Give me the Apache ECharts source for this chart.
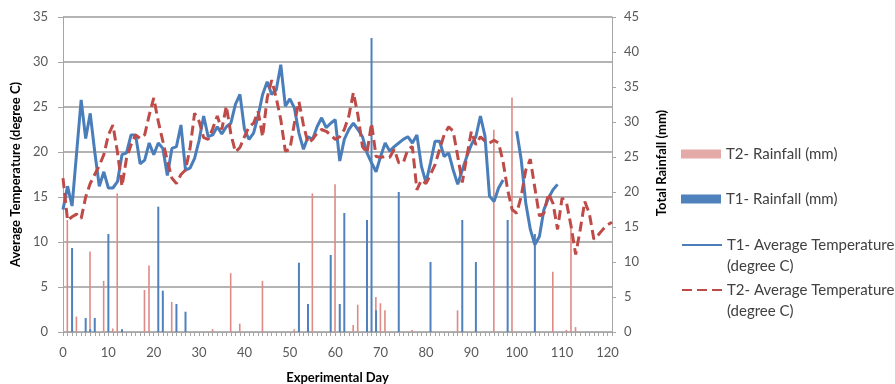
<!DOCTYPE html>
<html>
<head>
<meta charset="utf-8">
<script src="https://cdn.jsdelivr.net/npm/echarts@6/dist/echarts.min.js"></script>
<style>
  html, body { margin: 0; padding: 0; background: #fff; }
  #chart { width: 895px; height: 384px; }
</style>
</head>
<body>
<div id="chart"></div>
<script>
// experimental days 0..121
var days = [];
for (var i = 0; i <= 121; i++) days.push(String(i));

// average temperature (degree C), one value per day, null = no reading
var t1Temp = [
  13.6, 16.2, 14.0, 19.9, 25.8, 21.5, 24.3, 20.0, 16.2, 17.8,
  16.0, 16.0, 16.7, 19.7, 19.9, 21.9, 21.9, 18.7, 19.1, 21.0,
  19.7, 21.0, 20.4, 17.4, 20.4, 20.6, 23.0, 18.0, 18.2, 19.3,
  21.3, 24.0, 21.7, 21.9, 22.8, 22.0, 22.8, 23.2, 25.3, 26.4,
  22.5, 21.4, 22.1, 24.0, 26.4, 27.8, 26.4, 26.9, 29.7, 25.1,
  25.9, 24.9, 22.1, 20.3, 21.7, 21.4, 22.8, 23.8, 22.7, 23.2,
  23.6, 19.0, 21.4, 22.5, 23.2, 22.5, 21.7, 19.9, 18.8, 17.8,
  19.5, 21.0, 20.1, 20.6, 21.0, 21.4, 21.7, 21.0, 21.9, 18.4,
  16.6, 18.8, 21.2, 21.2, 19.5, 19.9, 18.0, 16.4, 18.0, 19.5,
  20.8, 21.7, 24.0, 21.8, 15.1, 14.5, 16.0, 16.9, null, null,
  22.3, 19.1, 14.3, 11.4, 9.7, 10.6, 13.6, 14.9, 15.8, 16.4,
  null, null, null, null, null, null, null, null, null, null,
  null, null
];
var t2Temp = [
  17.1, 12.4, 12.8, 13.1, 12.6, 15.0, 16.5, 17.5, 18.5, 19.7,
  21.9, 23.0, 20.0, 16.2, 19.3, 20.8, 21.9, 21.5, 21.9, 24.1,
  26.0, 23.4, 21.2, 19.0, 17.1, 16.5, 17.5, 18.0, 20.4, 24.3,
  23.4, 21.6, 21.4, 22.6, 24.0, 22.5, 25.1, 22.0, 20.0, 20.5,
  21.7, 22.8, 23.2, 24.5, 21.7, 26.0, 28.0, 26.0, 23.6, 20.1,
  20.3, 23.2, 25.6, 23.0, 21.0, 21.4, 22.1, 22.5, 22.3, 21.9,
  21.4, 21.7, 22.5, 24.0, 26.6, 24.1, 20.6, 19.9, 23.2, 19.5,
  19.4, 19.5, 19.4, 20.3, 18.8, 18.8, 20.3, 20.6, 15.8, 16.9,
  16.5, 17.5, 18.6, 20.3, 21.9, 22.8, 22.3, 19.5, 16.6, 19.5,
  22.3, 20.8, 21.7, 21.2, 21.0, 21.3, 21.0, 18.9, 15.8, 13.6,
  13.2, 15.1, 18.0, 19.2, 16.0, 12.9, 13.2, 15.4, 14.3, 11.4,
  14.9, 14.3, 11.7, 8.6, 11.4, 14.5, 13.2, 10.3, 10.8, 11.4,
  11.9, 12.2
];

// rainfall (mm): [day, mm]
var t1Rain = [
  [2, 12], [5, 2], [6, 0.4], [7, 2], [10, 14], [13, 0.4], [21, 17.9], [22, 5.9],
  [25, 4], [27, 2.9], [52, 9.9], [54, 4], [59, 11], [61, 4], [62, 17], [67, 16],
  [68, 42], [69, 3.1], [74, 20], [81, 10], [88, 16], [91, 10], [98, 16], [104, 14]
];
var t2Rain = [
  [1, 16], [3, 2.2], [6, 11.5], [9, 7.3], [11, 0.5], [12, 19.8], [18, 6], [19, 9.5],
  [24, 4.3], [33, 0.4], [37, 8.4], [39, 1.2], [44, 7.3], [51, 0.4], [55, 19.8],
  [60, 21.1], [64, 1], [65, 3.9], [69, 5], [70, 4.1], [71, 3.1], [77, 0.3], [87, 3.1],
  [95, 28.9], [99, 33.5], [108, 8.6], [111, 0.3], [112, 15], [113, 0.7]
];

var FONT = 'Lato';
var blue = '#4a7ebb';
var red = '#be4b48';

var chart = echarts.init(document.getElementById('chart'));

function legendBox(name, top, extra) {
  var l = {
    data: [name],
    left: 681,
    top: top,
    padding: 0,
    itemWidth: 40,
    itemHeight: 9,
    textStyle: { fontFamily: FONT, fontSize: 15, color: '#404040', lineHeight: 21 }
  };
  for (var k in extra) l[k] = extra[k];
  return l;
}

// two-line legend label, first line level with the icon
function twoLines(n) {
  return '\n' + n.replace(' (degree', '\n(degree');
}

chart.setOption({
  animation: false,
  textStyle: { fontFamily: FONT },
  grid: { left: 63, right: 283, top: 17, bottom: 52, containLabel: false, outerBoundsMode: 'none' },
  legend: [
    legendBox({ name: 'T2- Rainfall (mm)', itemStyle: { color: '#e4aaa7' } }, 143.5, { icon: 'rect' }),
    legendBox('T1- Rainfall (mm)', 188.5, { icon: 'rect' }),
    legendBox('T1- Average Temperature (degree C)', 213.5, {
      formatter: twoLines,
      itemStyle: { opacity: 0 }
    }),
    legendBox('T2- Average Temperature (degree C)', 258.5, {
      formatter: twoLines,
      itemStyle: { opacity: 0 }
    })
  ],
  xAxis: {
    type: 'category',
    data: days,
    boundaryGap: false,
    name: 'Experimental Day',
    nameLocation: 'middle',
    nameGap: 39,
    nameTextStyle: { fontFamily: FONT, fontSize: 13, fontWeight: 'bold', color: '#000' },
    axisLine: { lineStyle: { color: '#a6a6a6', width: 1 } },
    axisTick: { interval: 0, length: 4, lineStyle: { color: '#a6a6a6' } },
    axisLabel: {
      interval: function (idx) { return idx % 10 === 0; },
      margin: 14,
      fontFamily: FONT, fontSize: 13, color: '#595959'
    },
    splitLine: { show: false }
  },
  yAxis: [
    {
      type: 'value',
      min: 0, max: 35, interval: 5,
      name: 'Average Temperature (degree C)',
      nameLocation: 'middle',
      nameGap: 39,
      nameTextStyle: { fontFamily: FONT, fontSize: 13, fontWeight: 'bold', color: '#000' },
      axisLine: { show: true, lineStyle: { color: '#a6a6a6' } },
      axisTick: { show: true, length: 5, lineStyle: { color: '#a6a6a6' } },
      axisLabel: { margin: 15, fontFamily: FONT, fontSize: 13, color: '#595959' },
      splitLine: { lineStyle: { color: '#b4b4b4', width: 2 } }
    },
    {
      type: 'value',
      position: 'right',
      min: 0, max: 45, interval: 5,
      name: 'Total Rainfall (mm)',
      nameLocation: 'middle',
      nameGap: 43,
      nameTextStyle: { fontFamily: FONT, fontSize: 13, fontWeight: 'bold', color: '#000', padding: [0, 0, 0, 23] },
      axisLine: { show: true, lineStyle: { color: '#a6a6a6' } },
      axisTick: { show: true, length: 4, lineStyle: { color: '#a6a6a6' } },
      axisLabel: { margin: 12, fontFamily: FONT, fontSize: 13, color: '#595959' },
      splitLine: { show: false }
    }
  ],
  series: [
    {
      name: 'T1- Average Temperature (degree C)',
      type: 'line',
      yAxisIndex: 0,
      data: t1Temp,
      symbol: 'none',
      connectNulls: false,
      lineStyle: { color: blue, width: 3 },
      itemStyle: { color: blue }
    },
    {
      name: 'T2- Average Temperature (degree C)',
      type: 'line',
      yAxisIndex: 0,
      data: t2Temp,
      symbol: 'none',
      lineStyle: { color: red, width: 3, type: [10, 5] },
      itemStyle: { color: red }
    },
    {
      name: 'T2- Rainfall (mm)',
      type: 'bar',
      yAxisIndex: 1,
      data: t2Rain,
      barWidth: 1.6,
      barGap: '-100%',
      itemStyle: { color: '#de8a86' }
    },
    {
      name: 'T1- Rainfall (mm)',
      type: 'bar',
      yAxisIndex: 1,
      data: t1Rain,
      barWidth: 2,
      barGap: '-100%',
      itemStyle: { color: '#4f81bd' }
    }
  ]
});

window.addEventListener('resize', function () {
  chart.resize();
});
</script>
</body>
</html>
